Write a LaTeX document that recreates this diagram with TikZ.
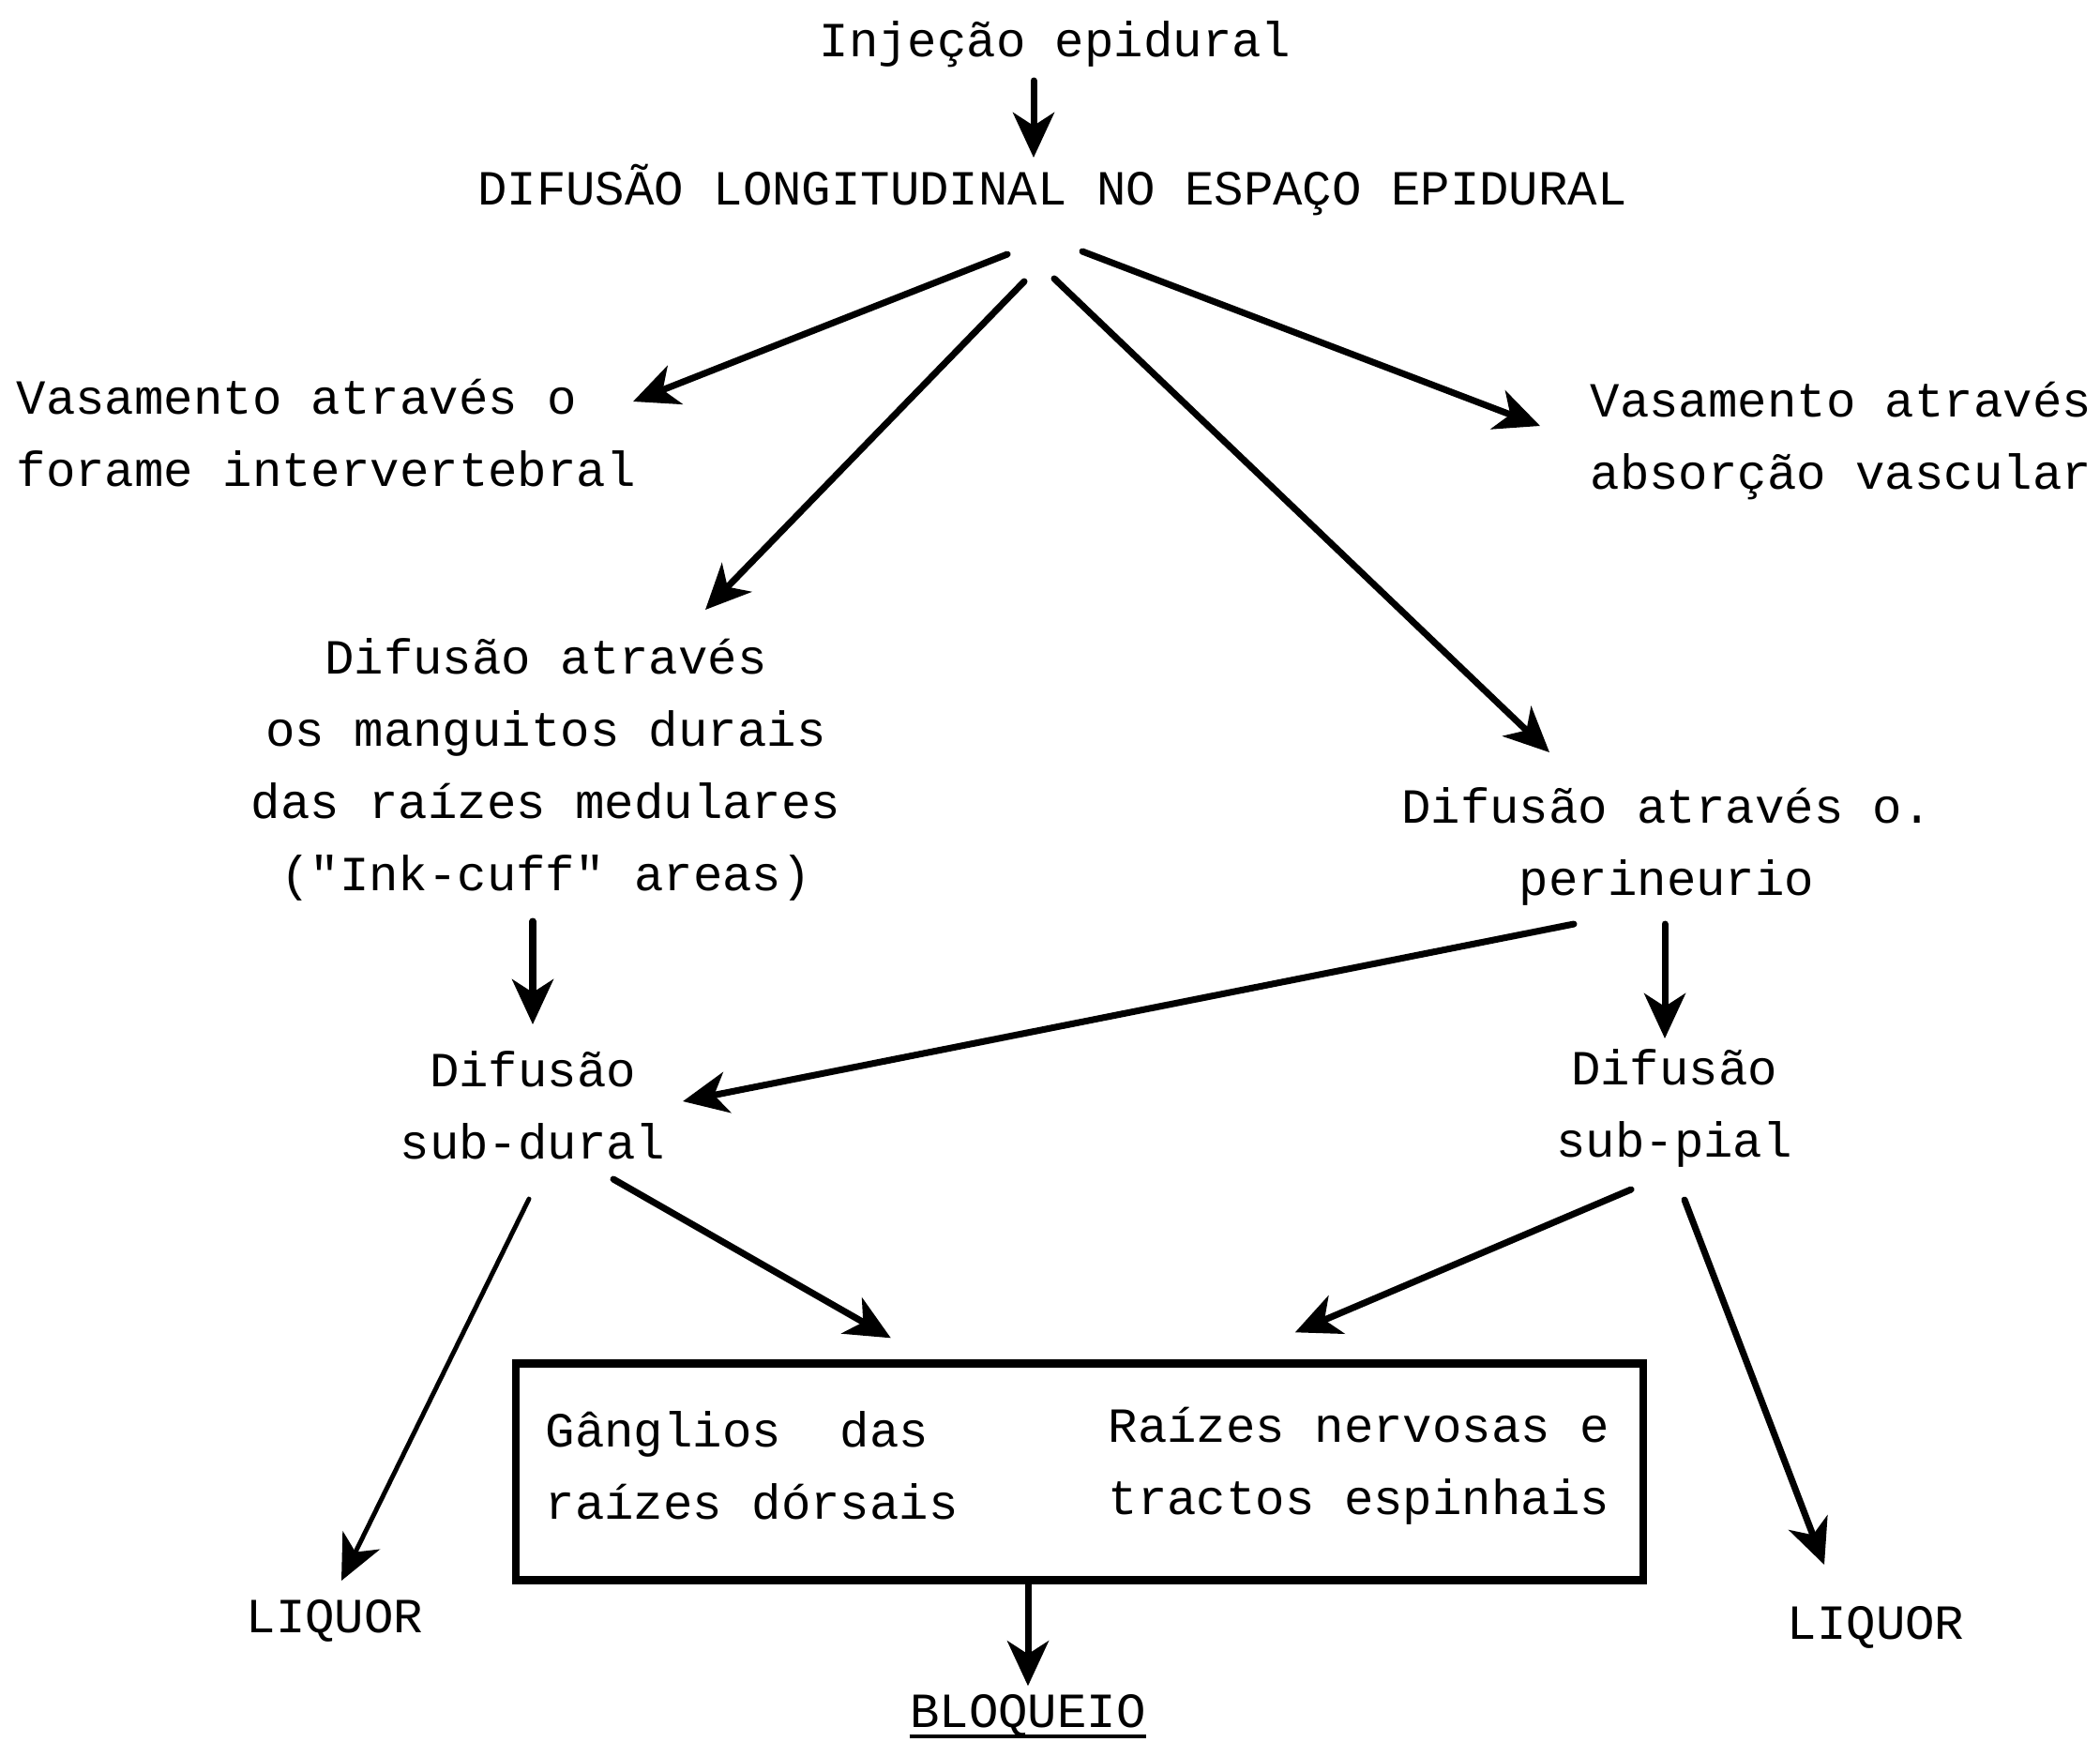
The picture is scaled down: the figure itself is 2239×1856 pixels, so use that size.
\documentclass[tikz,border=0pt]{standalone}
\usepackage{fontspec}
\setmonofont{Liberation Mono}
\usetikzlibrary{arrows.meta,calc}
\begin{document}
\begin{tikzpicture}[x=0.1mm,y=-0.1mm,
  lbl/.style={font=\ttfamily\fontsize{14.9}{21.9}\selectfont, inner sep=0pt, align=center},
  arr/.style={line width=2pt, line cap=round, -{Stealth[length=4.8mm,width=4.4mm,inset=1.4mm]}},
  thinarr/.style={line width=1.4pt, line cap=round, -{Stealth[length=4.8mm,width=4.4mm,inset=1.4mm]}},
  boxstyle/.style={draw, line width=2.4pt, inner sep=0pt, minimum width=120.2mm, minimum height=23.1mm}]
\useasboundingbox (0,0) rectangle (2239,1856);

\node[lbl] (inj) at (1125,47) {Injeção epidural};
\node[lbl] (dif) at (1122,203) {DIFUSÃO LONGITUDINAL NO ESPAÇO EPIDURAL};
\node[lbl,anchor=west,align=left] (vl) at (17,462) {Vasamento através o\\forame intervertebral};
\node[lbl,anchor=west,align=left] (vr) at (1695,470) {Vasamento através\\absorção vascular};
\node[lbl] (ink) at (582,820) {Difusão através\\os manguitos durais\\das raízes medulares\\("Ink-cuff" areas)};
\node[lbl] (per) at (1777,902) {Difusão através o.\\perineurio};
\node[lbl] (sd) at (568,1178) {Difusão\\sub-dural};
\node[lbl] (sp) at (1785,1181) {Difusão\\sub-pial};
\node[boxstyle] (box) at (1151,1569) {};
\node[lbl,anchor=west,align=left] (gang) at (581,1562) {Gânglios\ \ das\\raízes dórsais};
\node[lbl,anchor=west,align=left] (raiz) at (1181,1563) {Raízes nervosas e\\tractos espinhais};
\node[lbl,anchor=base] (bloq) at (1096,1841) {BLOQUEIO};
\draw[line width=1.2pt] ($(bloq.base west)+(0,10)$) -- ($(bloq.base east)+(0,10)$);
\node[lbl] (liqL) at (357,1728) {LIQUOR};
\node[lbl] (liqR) at (2000,1735) {LIQUOR};

\draw[arr] ($(inj.center)+(-23,39)$) -- ($(dif.center)+(-20,-35)$);
\draw[arr] ($(dif.center)+(-48,68)$) -- ($(vl.west)+(658,-34)$);
\draw[arr] ($(dif.center)+(-30,97)$) -- ($(ink.center)+(170,-170)$);
\draw[arr] ($(dif.center)+(2,94)$) -- ($(per.center)+(-125,-100)$);
\draw[arr] ($(dif.center)+(32,65)$) -- ($(vr.west)+(-53,-16)$);
\draw[arr] ($(ink.center)+(-14,162)$) -- ($(sd.center)+(0,-86)$);
\draw[arr] ($(per.center)+(-2,83)$) -- ($(sp.center)+(-10,-74)$);
\draw[arr] ($(per.center)+(-99,83)$) -- ($(sd.center)+(160,-4)$);
\draw[thinarr] ($(sd.center)+(-4,100)$) -- ($(liqL.center)+(7,-43)$);
\draw[arr] ($(sd.center)+(86,79)$) -- ($(box.north west)+(404,-23)$);
\draw[arr] ($(sp.center)+(-46,87)$) -- ($(box.north west)+(835,-29)$);
\draw[arr] ($(sp.center)+(11,98)$) -- ($(liqR.center)+(-55,-67)$);
\draw[arr] (box.south -| bloq.north) -- ($(bloq.north)+(0,-8)$);
\end{tikzpicture}
\end{document}
